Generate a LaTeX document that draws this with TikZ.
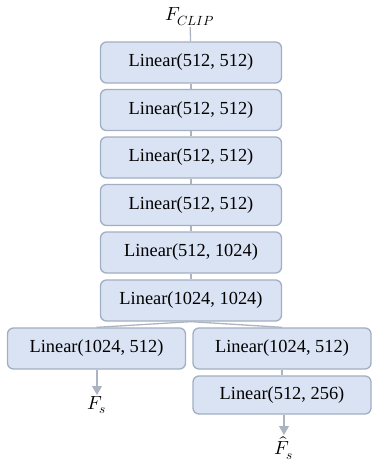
\documentclass[tikz,border=0pt]{standalone}
\usepackage{fontspec}
\usepackage{unicode-math}
\setmainfont{Liberation Serif}
\setmathfont{Latin Modern Math}
\usetikzlibrary{arrows.meta}
\definecolor{boxfill}{RGB}{218,227,243}
\definecolor{boxline}{RGB}{162,174,194}
\definecolor{linkline}{RGB}{172,180,194}
\tikzset{
  layer/.style={draw=boxline, fill=boxfill, line width=1.3pt, rounded corners=6pt,
    minimum width=181pt, minimum height=41pt, inner sep=0pt,
    font=\fontsize{18.4}{22}\selectfont},
  halflayer/.style={layer, minimum width=178pt},
  link/.style={draw=linkline, line width=1.3pt},
  outlink/.style={link, -{Triangle[width=10pt,length=9pt]}},
  feat/.style={inner sep=1pt, font=\fontsize{19}{22}\selectfont}
}
\begin{document}
\begin{tikzpicture}[x=1pt,y=-1pt]
\useasboundingbox (0,0) rectangle (373,463);

\node[feat] (clip) at (190,17) {$F_{CLIP}$};

% trunk
\node[layer] (l1) at (191,62.5) {Linear(512, 512)};
\node[layer] (l2) at (191,110) {Linear(512, 512)};
\node[layer] (l3) at (191,157.5) {Linear(512, 512)};
\node[layer] (l4) at (191,205) {Linear(512, 512)};
\node[layer] (l5) at (191,252.5) {Linear(512, 1024)};
\node[layer] (l6) at (191,300.5) {Linear(1024, 1024)};

% two heads
\node[halflayer] (la) at (96.5,348.5) {Linear(1024, 512)};
\node[halflayer] (ra) at (282,348.5) {Linear(1024, 512)};
\node[halflayer, minimum height=38pt] (rb) at (282,395) {Linear(512, 256)};

\node[feat, anchor=north] (fs) at (97,395) {$F_s$};
\node[feat, anchor=north] (fhat) at (284,435) {$\hat{F}_s$};

\draw [link] (clip) -- (l1);
\foreach \a/\b in {l1/l2,l2/l3,l3/l4,l4/l5,l5/l6,ra/rb}
\draw [link] (\a) -- (\b);
\draw [link] (l6.south) -- (la.north);
\draw [link] (l6.south) -- (ra.north);

\draw [outlink] (la.south -| fs) -- (fs);
\draw [outlink] (rb.south -| fhat) -- (fhat);

\end{tikzpicture}
\end{document}
